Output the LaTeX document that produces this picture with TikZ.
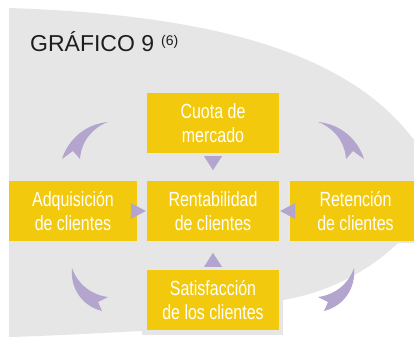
\documentclass[tikz,border=0pt]{standalone}
\usepackage{fontspec}
\setmainfont{Liberation Sans}
\newfontfamily\boxfont{Liberation Sans}[FakeStretch=0.78]
\usetikzlibrary{calc}
\definecolor{bggrey}{HTML}{E6E6E6}
\definecolor{boxyellow}{HTML}{F2C90C}
\definecolor{arrowpurple}{HTML}{B3A5CE}
\definecolor{titleblack}{HTML}{1E1E1E}
\tikzset{
  box/.style={fill=boxyellow, text=white, inner sep=0pt, minimum height=60pt,
    align=center, font=\boxfont\fontsize{20.5}{24}\selectfont},
  tri/.style={fill=arrowpurple},
  crescent/.style={fill=arrowpurple},
  bgshape/.style={fill=bggrey}
}
\begin{document}
\begin{tikzpicture}[x=1pt,y=-1pt]
\useasboundingbox (0,0) rectangle (414,337);
\fill[white] (0,0) rectangle (414,337);
% background shape
\fill[bgshape] (9,8) .. controls (220,15) and (350,55) .. (414,140) -- (414,243) -- (398,243)
  .. controls (370,270) and (330,292) .. (283,300) -- (142,331)
  .. controls (100,333) and (50,336) .. (9,337) -- cycle;
% title
\node[anchor=base west, inner sep=0pt, text=titleblack, font=\fontsize{23}{23}\selectfont] (title) at (30,52) {GRÁFICO 9};
\node[anchor=base west, inner sep=0pt, text=titleblack, font=\fontsize{14}{14}\selectfont] (ref) at (161,45.5) {(6)};
% grey frame behind bottom box
\fill[bgshape] (142,265) rectangle (283,335);
% boxes
\node[box, minimum width=132pt] (cuota) at (213,123) {Cuota de\\mercado};
\node[box, minimum width=128pt] (adq) at (73,211) {Adquisición\\de clientes};
\node[box, minimum width=132pt] (rent) at (213,211) {Rentabilidad\\de clientes};
\node[box, minimum width=131pt] (ret) at (355.5,211) {Retención\\de clientes};
\node[box, minimum width=132pt] (sat) at (213,300) {Satisfacción\\de los clientes};
% triangles pointing to the central box
\fill[tri] ($(cuota.south)+(-9,3)$) -- ($(cuota.south)+(9,3)$) -- ($(cuota.south)+(0,17)$) -- cycle;
\fill[tri] ($(sat.north)+(-9,-3)$) -- ($(sat.north)+(9,-3)$) -- ($(sat.north)+(0,-17)$) -- cycle;
\fill[tri] ($(rent.west)+(-16,-8)$) -- ($(rent.west)+(-1,0)$) -- ($(rent.west)+(-16,8)$) -- cycle;
\fill[tri] ($(rent.east)+(16,-8)$) -- ($(rent.east)+(1,0)$) -- ($(rent.east)+(16,8)$) -- cycle;
% curved arrows, left side
\fill[crescent] (108,122) .. controls (85,124) and (68,140) .. (62,159) -- (73,151) -- (80,159)
  .. controls (81,142) and (92,128) .. (108,122) -- cycle;
\fill[crescent] (72,268) .. controls (70,288) and (82,306) .. (102,311) -- (98,302) -- (108,297)
  .. controls (92,295) and (78,285) .. (72,268) -- cycle;
% curved arrows, right side (mirror)
\begin{scope}[xshift=426pt, xscale=-1]
\fill[crescent] (108,122) .. controls (85,124) and (68,140) .. (62,159) -- (73,151) -- (80,159)
  .. controls (81,142) and (92,128) .. (108,122) -- cycle;
\fill[crescent] (72,268) .. controls (70,288) and (82,306) .. (102,311) -- (98,302) -- (108,297)
  .. controls (92,295) and (78,285) .. (72,268) -- cycle;
\end{scope}
\end{tikzpicture}
\end{document}
